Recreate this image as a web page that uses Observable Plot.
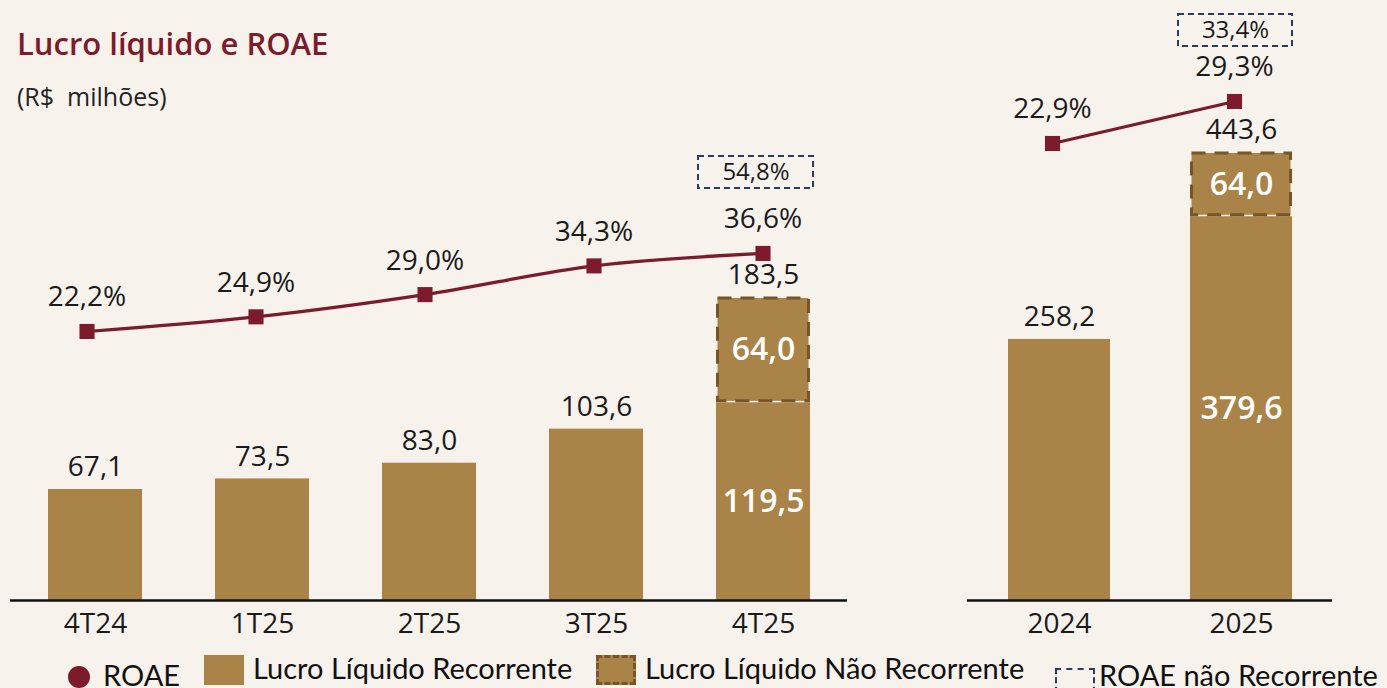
<!DOCTYPE html>
<html>
<head>
<meta charset="utf-8">
<script src="https://cdn.jsdelivr.net/npm/d3@7"></script>
<script src="https://cdn.jsdelivr.net/npm/@observablehq/plot@0.6"></script>
<style>
  html, body { margin: 0; padding: 0; background: #f7f2ec; }
  #wrap { position: relative; width: 1387px; height: 688px; overflow: hidden; background: #f7f2ec; font-family: "Open Sans", sans-serif; }
  .abs { position: absolute; }
  .title { left: 17px; top: 22px; font-size: 31px; font-weight: 600; color: #7b1b2b; font-family: "Open Sans", sans-serif; }
  .sub { left: 17px; top: 79px; font-size: 25px; color: #222; }
  .lg { font-family: Lato, sans-serif; font-size: 29px; color: #111; white-space: nowrap; }
  svg.plot { position: absolute; top: 0; }
</style>
</head>
<body>
<div id="wrap">
  <div class="abs title">Lucro líquido e ROAE</div>
  <div class="abs sub">(R$&nbsp; milhões)</div>
  <div id="legend"></div>
</div>
<script>
// ---- data ----
const quarters = ["4T24", "1T25", "2T25", "3T25", "4T25"];
const recQ = [67.1, 73.5, 83.0, 103.6, 119.5];
const nonRecQ = [0, 0, 0, 0, 64.0];
const roaeQ = [22.2, 24.9, 29.0, 34.3, 36.6];
const roaeNonRecQ = [null, null, null, null, 54.8];

const years = ["2024", "2025"];
const recY = [258.2, 379.6];
const nonRecY = [0, 64.0];
const roaeY = [22.9, 29.3];
const roaeNonRecY = [null, 33.4];

// ---- style ----
const BAR = "#a98347";
const DASH = "#765629";
const WINE = "#7b1b2b";
const NAVY = "#2b3b5e";
const FONT = "Open Sans, sans-serif";
const fmt = v => v.toFixed(1).replace(".", ",");

const wrap = document.getElementById("wrap");

function panel(cats, rec, nonRec, roae, roaeNR, cfg) {
  const rows = cats.map((c, i) => ({
    cat: c, rec: rec[i], non: nonRec[i], total: rec[i] + nonRec[i],
    roae: roae[i], roaeNR: roaeNR[i]
  }));
  const nonRows = rows.filter(d => d.non > 0);
  const nrRows = rows.filter(d => d.roaeNR != null);
  const common = {
    width: cfg.width, height: 645,
    marginLeft: 10, marginRight: 10, marginTop: 0, marginBottom: 45,
    style: { background: "transparent", fontFamily: FONT, overflow: "visible" }
  };
  const bars = Plot.plot({
    ...common,
    x: { domain: cats, paddingInner: 0.44, paddingOuter: 0.22, label: null },
    y: { domain: [0, 100], range: [600, 600 - cfg.pxPerUnit * 100], axis: null },
    marks: [
      Plot.barY(rows, { x: "cat", y: "rec", fill: BAR }),
      Plot.barY(nonRows, { x: "cat", y1: "rec", y2: "total", fill: BAR, stroke: DASH, strokeWidth: 3, strokeDasharray: "14,9", inset: 1.5 }),
      Plot.ruleY([0], { stroke: "#111", strokeWidth: 2.5 }),
      Plot.axisX({ tickSize: 0, tickPadding: 13, fontSize: 28, fill: "#1a1a1a", label: null }),
      Plot.text(rows, { x: "cat", y: "total", text: d => fmt(d.total), dy: -22, fontSize: 28, fill: "#1a1a1a" }),
      Plot.text(nonRows, { x: "cat", y: d => d.rec / 2, text: d => fmt(d.rec), fontSize: 32, fontWeight: 600, fill: "white" }),
      Plot.text(nonRows, { x: "cat", y: d => d.rec + d.non / 2, text: d => fmt(d.non), fontSize: 32, fontWeight: 600, fill: "white" })
    ]
  });
  const line = Plot.plot({
    ...common,
    x: { domain: cats, paddingInner: 0.44, paddingOuter: 0.22, range: cfg.lineRange, axis: null },
    y: { domain: cfg.pctDomain, range: cfg.pctRange, axis: null },
    marks: [
      Plot.line(rows, { x: "cat", y: "roae", stroke: WINE, strokeWidth: 3.2, curve: "catmull-rom" }),
      Plot.dot(rows, { x: "cat", y: "roae", symbol: "square", r: 8.5, fill: WINE }),
      Plot.text(rows, { x: "cat", y: "roae", text: d => fmt(d.roae) + "%", dy: -34, fontSize: 28, fill: "#1a1a1a" }),
      Plot.barY(nrRows, { x: "cat", y1: "roae", y2: "roae", dx: cfg.boxDx, dy: cfg.boxDy, insetTop: -16, insetBottom: -16, insetLeft: cfg.boxInset, insetRight: cfg.boxInset, fill: "none", stroke: NAVY, strokeWidth: 2, strokeDasharray: "6,4" }),
      Plot.text(nrRows, { x: "cat", y: "roae", text: d => fmt(d.roaeNR) + "%", dx: cfg.boxDx, dy: cfg.boxDy, fontSize: 24, fill: "#1a1a1a" })
    ]
  });
  for (const s of [bars, line]) {
    s.style.position = "absolute";
    s.style.left = cfg.left + "px";
    s.style.top = "0px";
    s.style.maxWidth = "none";
    wrap.appendChild(s);
  }
}

panel(quarters, recQ, nonRecQ, roaeQ, roaeNonRecQ, {
  left: 0, width: 857, pxPerUnit: 1.654,
  lineRange: [0.25, 847.75],
  pctDomain: [20, 40], pctRange: [342.9, 234.5],
  boxDx: -7, boxDy: -81, boxInset: -10
});
panel(years, recY, nonRecY, roaeY, roaeNonRecY, {
  left: 957, width: 385, pxPerUnit: 1.011,
  lineRange: [3, 368],
  pctDomain: [20, 30], pctRange: [162.0, 96.4],
  boxDx: 1, boxDy: -71, boxInset: -6
});

// ---- legend ----
const legend = document.getElementById("legend");
const items = [
  `<div class="abs" style="left:68px;top:666px;width:22px;height:22px;border-radius:50%;background:${WINE}"></div>`,
  `<div class="abs lg" style="left:103px;top:657px">ROAE</div>`,
  `<div class="abs" style="left:204px;top:655px;width:40px;height:30px;background:${BAR}"></div>`,
  `<div class="abs lg" style="left:253px;top:650px">Lucro Líquido Recorrente</div>`,
  `<div class="abs" style="left:596px;top:655px;width:34px;height:24px;background:${BAR};border:3px dashed ${DASH}"></div>`,
  `<div class="abs lg" style="left:645px;top:650px">Lucro Líquido Não Recorrente</div>`,
  `<div class="abs" style="left:1055px;top:668px;width:36px;height:30px;border:2px dashed ${NAVY}"></div>`,
  `<div class="abs lg" style="left:1099px;top:657px">ROAE não Recorrente</div>`
];
legend.innerHTML = items.join("");
</script>
</body>
</html>
